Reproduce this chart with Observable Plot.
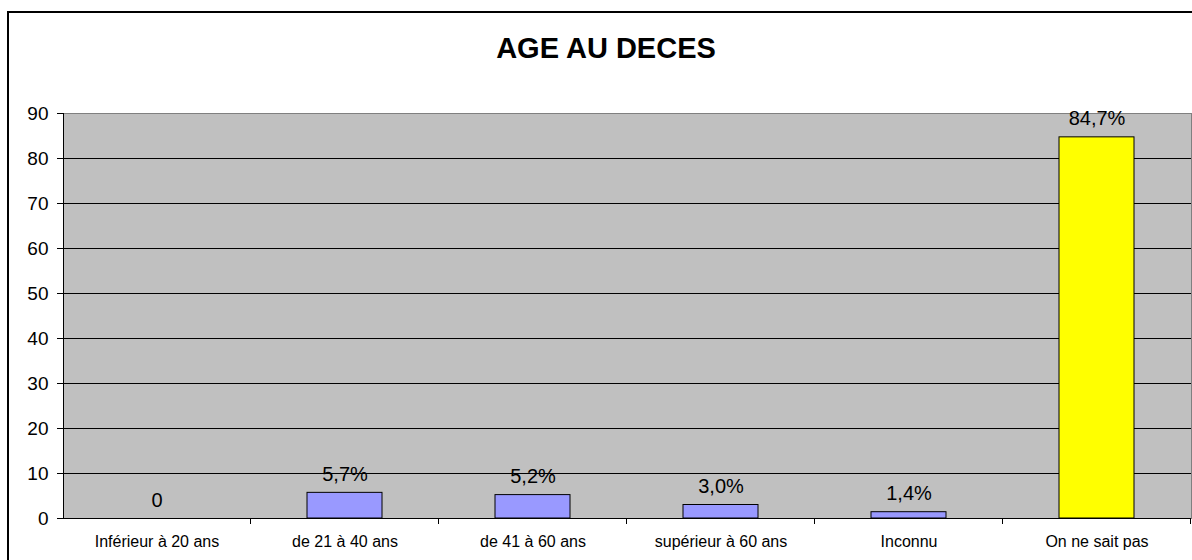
<!DOCTYPE html>
<html>
<head>
<meta charset="utf-8">
<script src="https://cdn.jsdelivr.net/npm/d3@7"></script>
<script src="https://cdn.jsdelivr.net/npm/@observablehq/plot@0.6"></script>
<style>
  html, body { margin: 0; padding: 0; background: #fff; }
  #wrap { position: relative; width: 1192px; height: 560px; overflow: hidden; font-family: 'Liberation Sans', Arial, sans-serif; }
  #border { position: absolute; left: 7px; top: 11px; width: 1300px; height: 700px; border: 2px solid #000; box-sizing: border-box; }
  #title { position: absolute; left: 0; top: 34px; width: 1212px; text-align: center; font-weight: bold; font-size: 29px; line-height: 29px; color: #000; }
  #chart { position: absolute; left: 0; top: 0; }
</style>
</head>
<body>
<div id="wrap">
  <div id="border"></div>
  <div id="chart"></div>
  <div id="title">AGE AU DECES</div>
</div>
<script>
const categories = ["Inférieur à 20 ans", "de 21 à 40 ans", "de 41 à 60 ans", "supérieur à 60 ans", "Inconnu", "On ne sait pas"];
const values = [0, 5.7, 5.2, 3.0, 1.4, 84.7];
const valueLabels = ["0", "5,7%", "5,2%", "3,0%", "1,4%", "84,7%"];
const barColors = ["#9999FF", "#9999FF", "#9999FF", "#9999FF", "#9999FF", "#FFFF00"];
const yTicks = [0, 10, 20, 30, 40, 50, 60, 70, 80, 90];
const gridLines = [10, 20, 30, 40, 50, 60, 70, 80];

const data = categories.map((c, i) => ({cat: c, value: values[i], label: valueLabels[i], color: barColors[i]}));

// decorations: left axis line and category boundary ticks, derived from scales
function axisDecor(index, scales, values, dimensions) {
  const x = scales.x, y = scales.y;
  const left = dimensions.marginLeft;
  const right = dimensions.width - dimensions.marginRight;
  const y0 = y(0), yTop = y(90);
  const g = d3.create("svg:g").attr("stroke", "#000").attr("stroke-width", 1).attr("shape-rendering", "crispEdges");
  g.append("line").attr("x1", left + 0.5).attr("x2", left + 0.5).attr("y1", yTop).attr("y2", y0 + 0.5);
  g.append("line").attr("x1", left).attr("x2", right).attr("y1", y0 + 0.5).attr("y2", y0 + 0.5);
  const bw = x.bandwidth();
  const bounds = [];
  for (let i = 0; i < categories.length - 1; i++) {
    bounds.push((x(categories[i]) + bw + x(categories[i + 1])) / 2);
  }
  bounds.push(right);
  for (const b of bounds) {
    const px = Math.round(b) - 0.5;
    g.append("line").attr("x1", px).attr("x2", px).attr("y1", y0).attr("y2", y0 + 6);
  }
  return g.node();
}

const chart = Plot.plot({
  width: 1192,
  height: 560,
  marginLeft: 63,
  marginRight: 1,
  marginTop: 113,
  marginBottom: 42,
  style: {fontFamily: "'Liberation Sans', Arial, sans-serif", fontSize: "19px", background: "transparent", color: "#000"},
  x: {domain: categories, paddingInner: 0.6, paddingOuter: 0.3, axis: null},
  y: {domain: [0, 90], ticks: yTicks, tickSize: 6, tickPadding: 9, label: null, tickFormat: d => String(d)},
  marks: [
    Plot.frame({fill: "#C0C0C0", stroke: "#808080"}),
    Plot.ruleY(gridLines, {y: d => d, stroke: "#000", strokeWidth: 1}),
    Plot.barY(data, {x: "cat", y: "value", fill: "color", stroke: "#000", strokeWidth: 1}),
    Plot.text(data, {x: "cat", y: "value", text: "label", dy: -12, lineAnchor: "bottom", fontSize: 20, fill: "#000"}),
    Plot.text(categories, {x: d => d, frameAnchor: "bottom", dy: 28, fontSize: 16, fill: "#000"}),
    axisDecor
  ]
});
document.getElementById("chart").appendChild(chart);
</script>
</body>
</html>
